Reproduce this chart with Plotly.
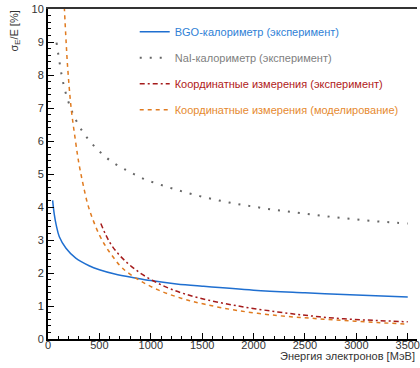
import plotly.graph_objects as go

# BGO calorimeter (experiment)
bgo_e = [45, 60, 80, 110, 175, 270, 400, 500, 650, 850, 1000, 1250, 1500, 2000, 2500, 3000, 3500]
bgo_s = [4.2, 3.8, 3.45, 3.1, 2.75, 2.45, 2.22, 2.1, 1.97, 1.85, 1.77, 1.67, 1.6, 1.48, 1.4, 1.33, 1.27]

# NaI calorimeter (experiment)
nai_e = [83, 112, 144, 192, 260, 353, 476, 617, 778, 942, 1119, 1296, 1476, 1660, 1840,
         2023, 2210, 2393, 2580, 2763, 2950, 3133, 3317, 3500]
nai_s = [8.98, 8.39, 7.82, 7.25, 6.71, 6.21, 5.76, 5.38, 5.09, 4.84, 4.65, 4.48, 4.33, 4.20, 4.09,
         4.0, 3.91, 3.84, 3.77, 3.70, 3.64, 3.58, 3.54, 3.50]

# Coordinate measurements (experiment)
crd_e = [514, 563, 627, 723, 852, 1013, 1206, 1463, 1849, 2235, 2557, 2879, 3201, 3500]
crd_s = [3.5, 3.15, 2.8, 2.45, 2.1, 1.78, 1.5, 1.25, 1.0, 0.82, 0.70, 0.61, 0.56, 0.52]

# Coordinate measurements (simulation)
sim_e = [155, 177, 192, 225, 263, 299, 337, 385, 433, 500, 563, 630, 723, 884, 1077, 1302,
         1528, 1849, 2235, 2557, 2879, 3201, 3500]
sim_s = [10.3, 8.96, 8.2, 7.0, 6.1, 5.35, 4.75, 4.1, 3.65, 3.15, 2.8, 2.5, 2.15, 1.79, 1.48, 1.23,
         1.05, 0.86, 0.71, 0.63, 0.56, 0.50, 0.45]

x_ticks = [0, 500, 1000, 1500, 2000, 2500, 3000, 3500]
y_ticks = list(range(0, 11))

names = ["BGO-калориметр (эксперимент)", "NaI-калориметр (эксперимент)",
         "Координатные измерения (эксперимент)", "Координатные измерения (моделирование)"]
line_colors = ["#1f6fd0", "#666666", "#a51b1b", "#e07b20"]
text_colors = ["#2f7fd6", "#808080", "#b02020", "#e68a30"]
dashes = ["solid", "2px,8px", "5px,3px,2px,3px", "4px,4px"]
widths = [1.5, 2, 1.5, 1.5]
series = [(bgo_e, bgo_s), (nai_e, nai_s), (crd_e, crd_s), (sim_e, sim_s)]

fig = go.Figure()
for i, (xs, ys) in enumerate(series):
    fig.add_trace(go.Scatter(
        x=xs, y=ys, mode="lines", line_shape="spline",
        name=f"<span style='color:{text_colors[i]}'>{names[i]}</span>",
        line=dict(color=line_colors[i], width=widths[i], dash=dashes[i]),
        legendgroup=f"g{i}", hoverinfo="skip",
    ))

font = "Liberation Sans, Arial, Helvetica, sans-serif"
fig.update_layout(
    width=420, height=368,
    margin=dict(l=48, r=0, t=9, b=29),
    paper_bgcolor="white", plot_bgcolor="white",
    font=dict(family=font, size=11, color="#333333"),
    showlegend=True,
    legend=dict(x=0.235, y=0.975, xanchor="left", yanchor="top",
                bgcolor="rgba(0,0,0,0)", font=dict(size=11),
                tracegroupgap=7, itemwidth=30),
    xaxis=dict(range=[0, 3590], tickvals=x_ticks, ticks="inside", ticklen=6,
               tickcolor="black", tickwidth=1, showline=True, linecolor="black",
               linewidth=2, mirror=False, showgrid=False, zeroline=False,
               ticklabeloverflow="allow", ticklabelstandoff=-5,
               minor=dict(ticks="inside", ticklen=3, dtick=100, tickcolor="black"),
               tickfont=dict(size=11, color="#333333")),
    yaxis=dict(range=[0, 10], tickvals=y_ticks, ticks="inside", ticklen=6,
               tickcolor="black", tickwidth=1, showline=True, linecolor="black",
               linewidth=2, showgrid=False, zeroline=False,
               minor=dict(ticks="inside", ticklen=3, dtick=0.2, tickcolor="black"),
               tickfont=dict(size=11, color="#333333")),
    xaxis2=dict(overlaying="x", side="top", range=[0, 3590], showline=True,
                linecolor="#333333", linewidth=2, showticklabels=False, ticks="",
                showgrid=False, zeroline=False),
)
fig.add_annotation(text="Энергия электронов [МэВ]", xref="paper", yref="paper",
                   x=1, y=-0.052, xanchor="right", yanchor="middle", showarrow=False,
                   font=dict(size=11, color="#333333"))
fig.add_annotation(text="σ<sub>E</sub>/E [%]", xref="paper", yref="paper",
                   x=-0.092, y=1.0, xanchor="center", yanchor="top", textangle=-90,
                   showarrow=False, font=dict(size=11, color="#333333"))
# invisible trace to activate top axis line
fig.add_trace(go.Scatter(x=[None], y=[None], xaxis="x2", showlegend=False, hoverinfo="skip"))

fig.write_html("out.html", config={"displayModeBar": False},
               post_script="document.body.style.margin='0';document.body.style.overflow='hidden';")
